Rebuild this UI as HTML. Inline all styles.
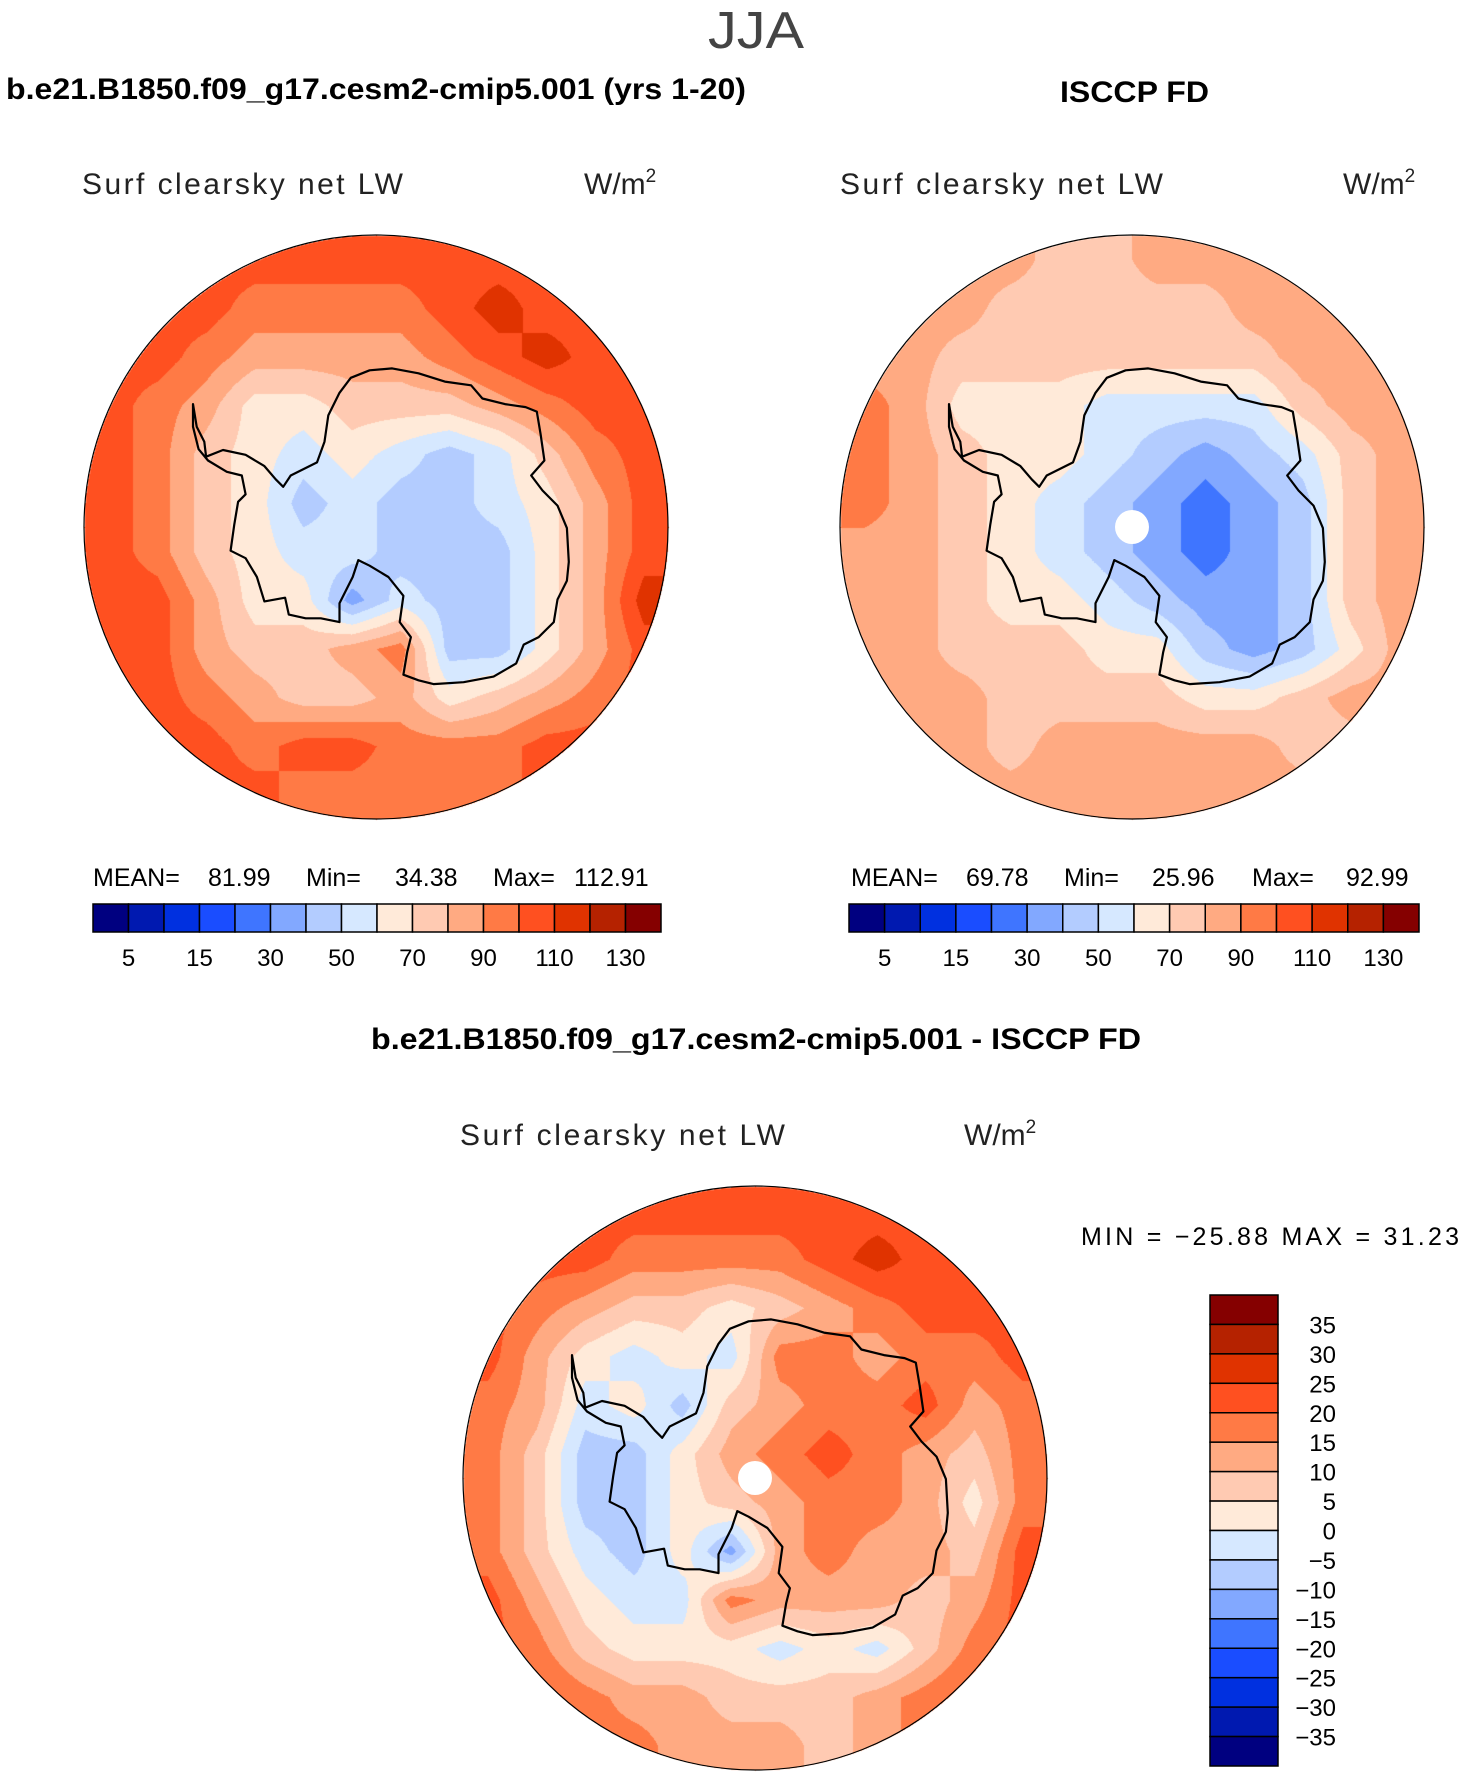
<!DOCTYPE html>
<html><head><meta charset="utf-8">
<style>
html,body{margin:0;padding:0;background:#fff;}
#root{position:relative;width:1463px;height:1776px;overflow:hidden;background:#fff;font-family:"Liberation Sans",sans-serif;}
canvas{position:absolute;}
svg{position:absolute;left:0;top:0;}
</style></head>
<body>
<div id="root">
<canvas id="mapA"></canvas>
<canvas id="mapB"></canvas>
<canvas id="mapC"></canvas>
<svg id="ov" width="1463" height="1776">
<g fill="#000" font-family="Liberation Sans, sans-serif">
<text x="756" y="48" font-size="52" text-anchor="middle" fill="#444" textLength="96" lengthAdjust="spacingAndGlyphs">JJA</text>
<text x="6" y="99" font-size="30" font-weight="bold" textLength="740" lengthAdjust="spacingAndGlyphs">b.e21.B1850.f09_g17.cesm2-cmip5.001 (yrs 1-20)</text>
<text x="1060" y="102" font-size="30" font-weight="bold" textLength="149" lengthAdjust="spacingAndGlyphs">ISCCP FD</text>
<text x="82" y="194" font-size="30" fill="#222" textLength="321" lengthAdjust="spacing">Surf  clearsky  net  LW</text>
<text x="584" y="194" font-size="30" fill="#222">W/m<tspan font-size="19" dy="-12">2</tspan></text>
<text x="840" y="194" font-size="30" fill="#222" textLength="323" lengthAdjust="spacing">Surf  clearsky  net  LW</text>
<text x="1343" y="194" font-size="30" fill="#222">W/m<tspan font-size="19" dy="-12">2</tspan></text>
<text x="93" y="886" font-size="25"><tspan x="93">MEAN=</tspan><tspan x="208">81.99</tspan><tspan x="306">Min=</tspan><tspan x="395">34.38</tspan><tspan x="493">Max=</tspan><tspan x="574">112.91</tspan></text>
<text x="851" y="886" font-size="25"><tspan x="851">MEAN=</tspan><tspan x="966">69.78</tspan><tspan x="1064">Min=</tspan><tspan x="1152">25.96</tspan><tspan x="1252">Max=</tspan><tspan x="1346">92.99</tspan></text>
<text x="371" y="1049" font-size="30" font-weight="bold" textLength="770" lengthAdjust="spacingAndGlyphs">b.e21.B1850.f09_g17.cesm2-cmip5.001 - ISCCP FD</text>
<text x="460" y="1145" font-size="30" fill="#222" textLength="325" lengthAdjust="spacing">Surf  clearsky  net  LW</text>
<text x="964" y="1145" font-size="30" fill="#222">W/m<tspan font-size="19" dy="-12">2</tspan></text>
<text x="1081" y="1245" font-size="25" textLength="378" lengthAdjust="spacing">MIN  =  −25.88  MAX  =    31.23</text>
</g>
<g id="bars"></g>
<g id="coasts"></g>
</svg>
</div>
<script>
// ---- data ----
const colors = ["#000080","#0019b0","#0030e0","#1a4dff","#3f75ff","#82a8ff","#b3ccff","#d6e8ff","#ffead9","#ffcab2","#ffaa82","#ff7a45","#ff5020","#e03300","#b52200","#850000"];
const levelsAbs = [5,10,15,20,30,40,50,60,70,80,90,100,110,120,130];
const levelsDiff = [-35,-30,-25,-20,-15,-10,-5,0,5,10,15,20,25,30,35];
const tickAbs = ["5","15","30","50","70","90","110","130"];
const tickDiff = ["35","30","25","20","15","10","5","0","−5","−10","−15","−20","−25","−30","−35"];
const modelGrid = [
[105,105,105,105,105,105,105,105,105,105,105,105],
[105,105,105,95,95,95,95,105,115,105,105,105],
[105,105,95,85,85,85,85,95,105,115,105,105],
[105,95,85,65,65,75,75,75,85,95,105,105],
[105,95,75,65,55,65,55,45,55,75,95,105],
[105,95,75,65,45,55,45,45,55,65,85,105],
[105,95,75,65,55,55,45,45,45,65,85,105],
[105,105,85,65,65,35,55,45,45,65,85,115],
[105,105,85,75,75,85,95,45,45,65,85,105],
[105,105,95,85,75,75,85,65,75,85,95,105],
[105,105,105,95,105,105,95,95,95,105,105,105],
[105,105,105,105,95,95,95,95,95,105,105,105]];
const obsGrid = [
[85,85,85,85,75,75,85,85,85,85,85,85],
[85,85,85,75,75,75,75,75,85,85,85,85],
[85,85,75,75,75,75,75,75,75,85,85,85],
[95,85,65,65,65,55,55,55,55,75,85,85],
[95,85,75,65,65,55,45,35,45,55,75,85],
[95,85,75,65,55,45,35,25,35,45,75,85],
[85,85,75,65,55,45,35,25,35,45,75,85],
[85,85,75,65,65,55,45,35,35,45,75,85],
[85,85,75,75,75,65,65,45,35,45,65,85],
[85,85,85,75,75,75,75,65,65,75,85,85],
[85,85,85,75,85,85,85,85,85,75,75,85],
[85,85,85,85,85,85,85,85,85,85,85,85]];
const diffGrid = [
[22.5,22.5,22.5,22.5,22.5,22.5,22.5,22.5,22.5,22.5,22.5,22.5],
[22.5,22.5,22.5,17.5,17.5,17.5,17.5,22.5,27.5,22.5,22.5,22.5],
[22.5,17.5,12.5,7.5,7.5,2.5,7.5,12.5,17.5,22.5,22.5,22.5],
[22.5,12.5,2.5,-2.5,2.5,-2.5,17.5,17.5,12.5,17.5,17.5,22.5],
[17.5,12.5,-2.5,2.5,-7.5,7.5,12.5,17.5,17.5,22.5,12.5,17.5],
[17.5,7.5,-7.5,-7.5,2.5,12.5,17.5,22.5,17.5,12.5,7.5,17.5],
[17.5,7.5,-7.5,-7.5,2.5,7.5,12.5,17.5,17.5,12.5,2.5,17.5],
[17.5,7.5,-2.5,-7.5,2.5,-12.5,12.5,17.5,12.5,12.5,7.5,22.5],
[22.5,12.5,2.5,-2.5,-2.5,17.5,12.5,12.5,12.5,7.5,12.5,22.5],
[22.5,17.5,7.5,2.5,2.5,2.5,-2.5,2.5,-2.5,7.5,17.5,22.5],
[22.5,22.5,17.5,12.5,12.5,7.5,7.5,7.5,12.5,17.5,22.5,22.5],
[22.5,22.5,17.5,17.5,12.5,12.5,12.5,7.5,12.5,17.5,22.5,22.5]];

// ---- layout ----
const R = 292;
const maps = [
 {id:"mapA", cx:376, cy:527, grid:modelGrid, levels:levelsAbs, hole:false},
 {id:"mapB", cx:1132, cy:527, grid:obsGrid, levels:levelsAbs, hole:true},
 {id:"mapC", cx:755, cy:1478, grid:diffGrid, levels:levelsDiff, hole:true}
];
const coast = [[300,460],[310,520],[330,560],[335,600],[380,582],[440,595],[490,625],[520,660],[540,680],[560,650],[630,615],[650,560],[660,490],[690,430],[720,390],[770,370],[830,365],[900,378],[970,400],[1040,410],[1070,445],[1130,460],[1185,468],[1215,480],[1225,540],[1235,610],[1200,650],[1230,690],[1270,730],[1295,790],[1300,880],[1295,930],[1270,980],[1260,1040],[1220,1080],[1180,1100],[1160,1150],[1100,1185],[1020,1200],[940,1205],[900,1195],[860,1180],[870,1120],[880,1080],[850,1040],[860,970],[820,920],[770,890],[740,875],[725,920],[690,990],[690,1040],[640,1030],[600,1030],[555,1020],[545,975],[490,985],[470,920],[440,870],[400,850],[410,780],[420,720],[440,700],[430,650],[390,640],[340,610],[315,580],[300,520]];

function hexRgb(h){return [parseInt(h.substr(1,2),16),parseInt(h.substr(3,2),16),parseInt(h.substr(5,2),16)];}
const rgbs = colors.map(hexRgb);
function levelIndex(v, lv){let i=0;while(i<lv.length && v>=lv[i]) i++;return i;}
function sample(grid,gx,gy){
  const n=grid.length;
  gx=Math.max(0,Math.min(n-1,gx)); gy=Math.max(0,Math.min(n-1,gy));
  const x0=Math.floor(gx), y0=Math.floor(gy), x1=Math.min(n-1,x0+1), y1=Math.min(n-1,y0+1);
  const fx=gx-x0, fy=gy-y0;
  const a=grid[y0][x0]*(1-fx)+grid[y0][x1]*fx;
  const b=grid[y1][x0]*(1-fx)+grid[y1][x1]*fx;
  return a*(1-fy)+b*fy;
}
const NS="http://www.w3.org/2000/svg";
const coasts=document.getElementById('coasts');
maps.forEach(m=>{
  const c=document.getElementById(m.id);
  const S=2*R+4;
  c.width=S;c.height=S;
  c.style.left=(m.cx-R-2)+"px";c.style.top=(m.cy-R-2)+"px";
  const ctx=c.getContext('2d');
  const img=ctx.createImageData(S,S);
  const n=m.grid.length;
  for(let y=0;y<S;y++)for(let x=0;x<S;x++){
    const dx=x-R-2, dy=y-R-2;
    if(dx*dx+dy*dy>R*R) continue;
    const gx=(dx+R)/(2*R)*n-0.5, gy=(dy+R)/(2*R)*n-0.5;
    const v=sample(m.grid,gx,gy);
    const col=rgbs[levelIndex(v,m.levels)];
    const k=(y*S+x)*4;
    img.data[k]=col[0];img.data[k+1]=col[1];img.data[k+2]=col[2];img.data[k+3]=255;
  }
  ctx.putImageData(img,0,0);
  const circ=document.createElementNS(NS,'circle');
  circ.setAttribute('cx',m.cx);circ.setAttribute('cy',m.cy);circ.setAttribute('r',R);
  circ.setAttribute('fill','none');circ.setAttribute('stroke','#000');circ.setAttribute('stroke-width','1.2');
  
  
  coasts.appendChild(circ);
  const p=document.createElementNS(NS,'path');
  const sc=R/777;
  p.setAttribute('d','M'+coast.map(q=>((q[0]-787)*sc+m.cx).toFixed(1)+','+((q[1]-787)*sc+m.cy).toFixed(1)).join('L')+'Z');
  p.setAttribute('fill','none');p.setAttribute('stroke','#000');p.setAttribute('stroke-width','2.2');p.setAttribute('stroke-linejoin','round');
  
  
  coasts.appendChild(p);
  if(m.hole){
    const h=document.createElementNS(NS,'circle');
    h.setAttribute('cx',m.cx);h.setAttribute('cy',m.cy);h.setAttribute('r',17);h.setAttribute('fill','#fff');
    
    
    coasts.appendChild(h);
  }
});

// ---- colorbars ----
const bars=document.getElementById('bars');
function hbar(x0,x1,y0,y1,name){
  const w=(x1-x0)/colors.length;
  colors.forEach((col,i)=>{
    const r=document.createElementNS(NS,'rect');
    r.setAttribute('x',x0+i*w);r.setAttribute('y',y0);r.setAttribute('width',w);r.setAttribute('height',y1-y0);
    r.setAttribute('fill',col);r.setAttribute('stroke','#000');r.setAttribute('stroke-width','1.5');
    
    
    bars.appendChild(r);
  });
  tickAbs.forEach((t,j)=>{
    const tx=document.createElementNS(NS,'text');
    tx.setAttribute('x',x0+(2*j+1)*w);tx.setAttribute('y',y1+34);
    tx.setAttribute('text-anchor','middle');tx.setAttribute('font-size','24');
    tx.setAttribute('font-family','Liberation Sans, sans-serif');
    tx.textContent=t;
    
    
    bars.appendChild(tx);
  });
}
hbar(93,661,904,932,'model-colorbar');
hbar(849,1419,904,932,'obs-colorbar');
(function(){
  const x0=1210,x1=1278,y0=1295,y1=1766;
  const h=(y1-y0)/colors.length;
  colors.slice().reverse().forEach((col,i)=>{
    const r=document.createElementNS(NS,'rect');
    r.setAttribute('x',x0);r.setAttribute('y',y0+i*h);r.setAttribute('width',x1-x0);r.setAttribute('height',h);
    r.setAttribute('fill',col);r.setAttribute('stroke','#000');r.setAttribute('stroke-width','1.5');
    
    
    bars.appendChild(r);
  });
  tickDiff.forEach((t,j)=>{
    const tx=document.createElementNS(NS,'text');
    tx.setAttribute('x',1336);tx.setAttribute('y',y0+(j+1)*h+9);
    tx.setAttribute('text-anchor','end');tx.setAttribute('font-size','24');
    tx.setAttribute('font-family','Liberation Sans, sans-serif');
    tx.textContent=t;
    
    
    bars.appendChild(tx);
  });
})();
</script>
</body></html>
